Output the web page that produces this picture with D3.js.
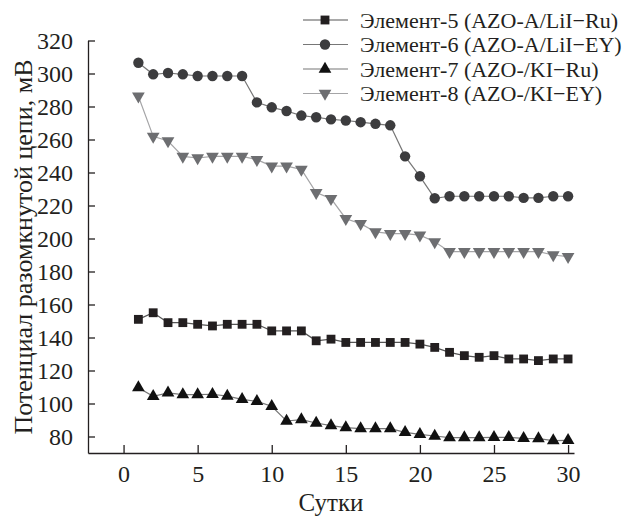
<!DOCTYPE html>
<meta charset="utf-8">
<head>
<script src="https://d3js.org/d3.v7.min.js"></script>
<style>
  body { margin: 0; background: #fff; }
  text { font-family: "Liberation Serif", "Tinos", "Times New Roman", "DejaVu Serif", serif; fill: #231f20; }
</style>
</head>
<body>
<svg id="chart" width="627" height="516"></svg>
<script>
// days 1..30
var days = d3.range(1, 31);
var seriesNames = ["Элемент-5 (AZO-A/LiI\u2212Ru)", "Элемент-6 (AZO-A/LiI\u2212EY)",
                   "Элемент-7 (AZO-/KI\u2212Ru)", "Элемент-8 (AZO-/KI\u2212EY)"];
var el5 = [151, 155, 149, 149, 148, 147, 148, 148, 148, 144, 144, 144, 138, 139, 137,
           137, 137, 137, 137, 136, 134, 131, 129, 128, 129, 127, 127, 126, 127, 127];
var el6 = [306.5, 299.5, 300.3, 299.5, 298.5, 298.5, 298.5, 298.5, 282.5, 279.5, 277.3, 274.5, 273.5, 272.2, 271.5,
           270.5, 269.5, 268.6, 249.8, 237.7, 224.4, 225.6, 225.6, 225.6, 225.6, 225.6, 224.6, 224.6, 225.6, 225.6];
var el7 = [109.6, 104.4, 106.4, 105.4, 105.4, 105.6, 104.5, 102.5, 101.3, 98.3, 89.4, 90.2, 88.2, 86.6, 85.4,
           84.8, 84.8, 84.8, 82.5, 81.3, 80.3, 79.3, 79.3, 79.3, 79.5, 79.5, 78.9, 78.7, 77.5, 77.7];
var el8 = [286.2, 261.9, 259.1, 249.8, 248.8, 249.8, 249.8, 249.8, 247.8, 243.9, 243.9, 241.9, 227.8, 224.2, 212,
           209, 204, 203, 203, 202, 198, 192, 192, 192, 192, 192, 192, 192, 190, 189];
var xTicks = [0, 5, 10, 15, 20, 25, 30];
var yTicks = [80, 100, 120, 140, 160, 180, 200, 220, 240, 260, 280, 300, 320];

var series = [
  {name: seriesNames[0], values: el5, sym: d3.symbolSquare, size: 78, rot: 0, fill: "#231f20", line: "#555"},
  {name: seriesNames[1], values: el6, sym: d3.symbolCircle, size: 85, rot: 0, fill: "#3c3c3e", line: "#777"},
  {name: seriesNames[2], values: el7, sym: d3.symbolTriangle, size: 70, rot: 0, fill: "#111", line: "#777"},
  {name: seriesNames[3], values: el8, sym: d3.symbolTriangle, size: 70, rot: 180, fill: "#6d6e71", line: "#a5a5a7"}
];

var svg = d3.select("#chart");

var x = d3.scaleLinear().domain([-2.4, 30.4]).range([88, 574]);
var y = d3.scaleLinear().domain([70, 320]).range([453, 40.5]);

// axes, ticks pointing inward
var xAxis = svg.append("g").attr("transform", "translate(0,453)")
  .call(d3.axisBottom(x).tickValues(xTicks).tickSizeInner(-8).tickSizeOuter(0).tickPadding(12));
var yAxis = svg.append("g").attr("transform", "translate(88,0)")
  .call(d3.axisLeft(y).tickValues(yTicks).tickSizeInner(-7).tickSizeOuter(0).tickPadding(15));

[xAxis, yAxis].forEach(function(a) {
  a.attr("font-family", null);
  a.select(".domain").attr("stroke", "#231f20").attr("stroke-width", 1.3);
  a.selectAll(".tick line").attr("stroke", "#231f20").attr("stroke-width", 1.3);
  a.selectAll(".tick text").attr("font-size", 24).attr("fill", "#231f20");
});

svg.append("text").attr("x", 331).attr("y", 511).attr("text-anchor", "middle")
  .attr("font-size", 25).text("Сутки");
svg.append("text").attr("transform", "translate(32,247) rotate(-90)").attr("text-anchor", "middle")
  .attr("font-size", 26).text("Потенциал разомкнутой цепи, мВ");

var line = d3.line().x(function(d, i) { return x(days[i]); }).y(function(d) { return y(d); });

series.forEach(function(s) {
  svg.append("path").datum(s.values).attr("d", line)
    .attr("fill", "none").attr("stroke", s.line).attr("stroke-width", 1.2);
  svg.selectAll(null).data(s.values).enter().append("path")
    .attr("d", d3.symbol().type(s.sym).size(s.size))
    .attr("transform", function(d, i) { return "translate(" + x(days[i]) + "," + y(d) + ") rotate(" + s.rot + ")"; })
    .attr("fill", s.fill);
});

// legend
var leg = svg.append("g");
series.forEach(function(s, i) {
  var ly = 20 + i * 24.5;
  leg.append("line").attr("x1", 303).attr("x2", 348).attr("y1", ly).attr("y2", ly)
    .attr("stroke", s.line).attr("stroke-width", 1.2);
  leg.append("path").attr("d", d3.symbol().type(s.sym).size(s.size)())
    .attr("transform", "translate(325," + ly + ") rotate(" + s.rot + ")").attr("fill", s.fill);
  leg.append("text").attr("x", 360).attr("y", ly).attr("dy", "0.35em")
    .attr("font-size", 22).text(s.name);
});
</script>
</body>
